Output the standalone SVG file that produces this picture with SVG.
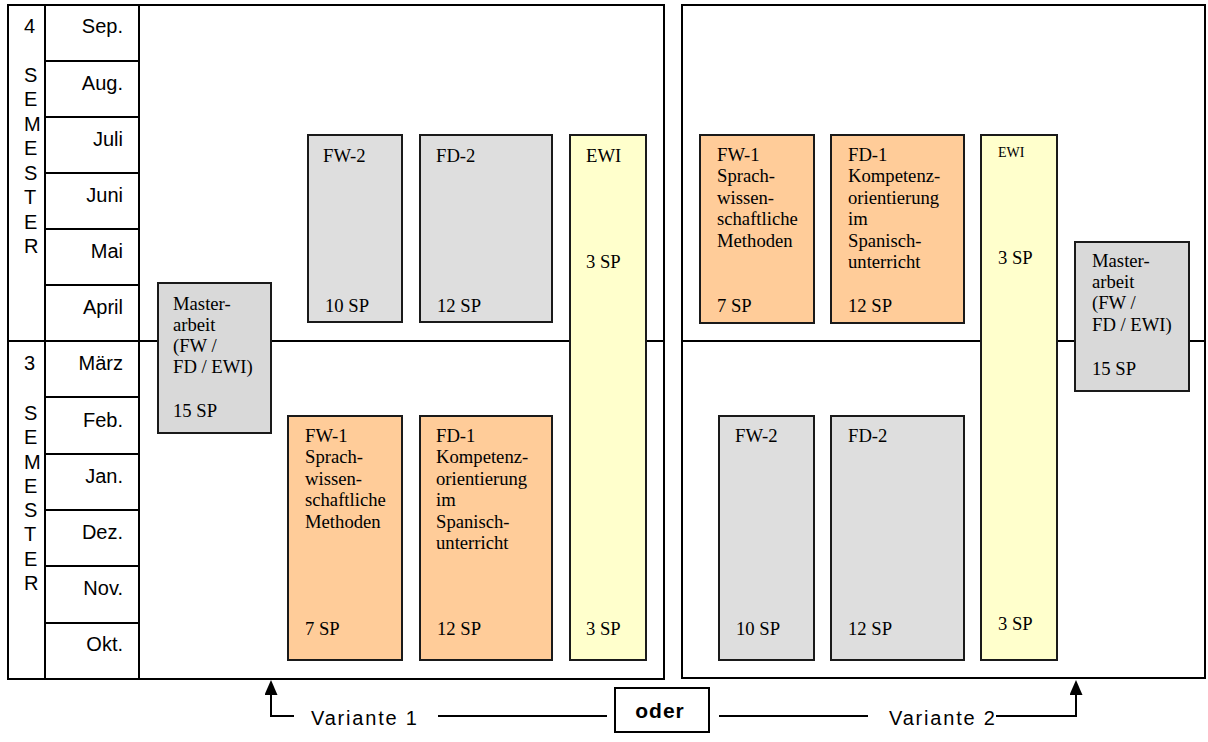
<svg xmlns="http://www.w3.org/2000/svg" width="1208" height="742" viewBox="0 0 1208 742">
<style>
.frame{fill:#fff;stroke:#000;stroke-width:2}
.ln{stroke:#000;stroke-width:2;fill:none}
.grey{fill:#dedede;stroke:#1a1a1a;stroke-width:2}
.ma{fill:#d9d9d9;stroke:#1a1a1a;stroke-width:2}
.orange{fill:#ffcc99;stroke:#1a1a1a;stroke-width:2}
.yellow{fill:#ffffcc;stroke:#1a1a1a;stroke-width:2}
.m{font-family:"Liberation Sans",Arial,sans-serif;font-size:20px;text-anchor:end;fill:#000}
.s{font-family:"Liberation Sans",Arial,sans-serif;font-size:20px;fill:#000}
.t{font-family:"Liberation Serif","Times New Roman",serif;font-size:18.67px;fill:#000}
.ts{font-family:"Liberation Serif","Times New Roman",serif;font-size:14px;fill:#000}
.v{font-family:"Liberation Sans",Arial,sans-serif;font-size:20px;letter-spacing:1.8px;fill:#000}
.o{font-family:"Liberation Sans",Arial,sans-serif;font-size:21px;font-weight:bold;letter-spacing:1px;fill:#000;text-anchor:middle}
</style>
<defs>
<marker id="ah" markerWidth="15" markerHeight="13" refX="5" refY="6.5" orient="auto" markerUnits="userSpaceOnUse" viewBox="0 0 15 13">
<path d="M0,0 L15,6.5 L0,13 Z" fill="#000"/>
</marker>
</defs>

<g id="panel-left">
<rect class="frame" x="8" y="5" width="656" height="674"/>
<line class="ln" x1="45" y1="5" x2="45" y2="679"/>
<line class="ln" x1="139" y1="5" x2="139" y2="679"/>
<line class="ln" x1="8" y1="341" x2="664" y2="341"/>
<g class="ln">
<line x1="45" y1="61" x2="139" y2="61"/>
<line x1="45" y1="117" x2="139" y2="117"/>
<line x1="45" y1="173" x2="139" y2="173"/>
<line x1="45" y1="229" x2="139" y2="229"/>
<line x1="45" y1="285" x2="139" y2="285"/>
<line x1="45" y1="397" x2="139" y2="397"/>
<line x1="45" y1="454" x2="139" y2="454"/>
<line x1="45" y1="510" x2="139" y2="510"/>
<line x1="45" y1="566" x2="139" y2="566"/>
<line x1="45" y1="623" x2="139" y2="623"/>
</g>
<text class="m" x="123" y="33">Sep.</text>
<text class="m" x="123" y="90">Aug.</text>
<text class="m" x="123" y="146">Juli</text>
<text class="m" x="123" y="202">Juni</text>
<text class="m" x="123" y="258">Mai</text>
<text class="m" x="123" y="314">April</text>
<text class="m" x="123" y="370">März</text>
<text class="m" x="123" y="427">Feb.</text>
<text class="m" x="123" y="483">Jan.</text>
<text class="m" x="123" y="539">Dez.</text>
<text class="m" x="123" y="595">Nov.</text>
<text class="m" x="123" y="651">Okt.</text>
<text class="s" x="24" y="33">4</text>
<text class="s" x="24" y="81.5">S</text>
<text class="s" x="24" y="106">E</text>
<text class="s" x="24" y="130.5">M</text>
<text class="s" x="24" y="155">E</text>
<text class="s" x="24" y="179.5">S</text>
<text class="s" x="24" y="204">T</text>
<text class="s" x="24" y="228.5">E</text>
<text class="s" x="24" y="253">R</text>
<text class="s" x="24" y="370">3</text>
<text class="s" x="24" y="420">S</text>
<text class="s" x="24" y="444.3">E</text>
<text class="s" x="24" y="468.6">M</text>
<text class="s" x="24" y="492.9">E</text>
<text class="s" x="24" y="517.1">S</text>
<text class="s" x="24" y="541.4">T</text>
<text class="s" x="24" y="565.7">E</text>
<text class="s" x="24" y="590">R</text>
</g>

<g id="panel-right">
<rect class="frame" x="682" y="5" width="523" height="673"/>
<line class="ln" x1="682" y1="341" x2="1205" y2="341"/>
</g>

<g id="v1-fw2">
<rect class="grey" x="308" y="135" width="94" height="187"/>
<text class="t" x="323" y="162">FW-2</text>
<text class="t" x="325" y="312">10 SP</text>
</g>
<g id="v1-fd2">
<rect class="grey" x="420" y="135" width="132" height="187"/>
<text class="t" x="436" y="162">FD-2</text>
<text class="t" x="437" y="312">12 SP</text>
</g>
<g id="v1-ewi">
<rect class="yellow" x="570" y="135" width="76" height="525"/>
<text class="t" x="586" y="162">EWI</text>
<text class="t" x="586" y="268">3 SP</text>
<text class="t" x="586" y="635">3 SP</text>
</g>
<g id="v1-master">
<rect class="ma" x="158" y="283" width="113" height="150"/>
<text class="t" x="173" y="310">Master-</text>
<text class="t" x="173" y="331">arbeit</text>
<text class="t" x="173" y="352">(FW /</text>
<text class="t" x="173" y="373">FD / EWI)</text>
<text class="t" x="173" y="417">15 SP</text>
</g>
<g id="v1-fw1">
<rect class="orange" x="288" y="416" width="114" height="244"/>
<text class="t" x="305" y="442">FW-1</text>
<text class="t" x="305" y="463">Sprach-</text>
<text class="t" x="305" y="485">wissen-</text>
<text class="t" x="305" y="506">schaftliche</text>
<text class="t" x="305" y="528">Methoden</text>
<text class="t" x="305" y="635">7 SP</text>
</g>
<g id="v1-fd1">
<rect class="orange" x="420" y="416" width="132" height="244"/>
<text class="t" x="436" y="442">FD-1</text>
<text class="t" x="436" y="463">Kompetenz-</text>
<text class="t" x="436" y="485">orientierung</text>
<text class="t" x="436" y="506">im</text>
<text class="t" x="436" y="528">Spanisch-</text>
<text class="t" x="436" y="549">unterricht</text>
<text class="t" x="437" y="635">12 SP</text>
</g>

<g id="v2-fw1">
<rect class="orange" x="700" y="135" width="114" height="188"/>
<text class="t" x="717" y="161">FW-1</text>
<text class="t" x="717" y="182">Sprach-</text>
<text class="t" x="717" y="204">wissen-</text>
<text class="t" x="717" y="225">schaftliche</text>
<text class="t" x="717" y="247">Methoden</text>
<text class="t" x="717" y="312">7 SP</text>
</g>
<g id="v2-fd1">
<rect class="orange" x="831" y="135" width="133" height="188"/>
<text class="t" x="848" y="161">FD-1</text>
<text class="t" x="848" y="182">Kompetenz-</text>
<text class="t" x="848" y="204">orientierung</text>
<text class="t" x="848" y="225">im</text>
<text class="t" x="848" y="247">Spanisch-</text>
<text class="t" x="848" y="268">unterricht</text>
<text class="t" x="848" y="312">12 SP</text>
</g>
<g id="v2-ewi">
<rect class="yellow" x="981" y="135" width="76" height="525"/>
<text class="ts" x="998" y="157">EWI</text>
<text class="t" x="998" y="264">3 SP</text>
<text class="t" x="998" y="630">3 SP</text>
</g>
<g id="v2-master">
<rect class="ma" x="1075" y="242" width="114" height="149"/>
<text class="t" x="1092" y="267">Master-</text>
<text class="t" x="1092" y="288">arbeit</text>
<text class="t" x="1092" y="309">(FW /</text>
<text class="t" x="1092" y="331">FD / EWI)</text>
<text class="t" x="1092" y="375">15 SP</text>
</g>
<g id="v2-fw2">
<rect class="grey" x="719" y="416" width="95" height="244"/>
<text class="t" x="735" y="442">FW-2</text>
<text class="t" x="736" y="635">10 SP</text>
</g>
<g id="v2-fd2">
<rect class="grey" x="831" y="416" width="133" height="244"/>
<text class="t" x="848" y="442">FD-2</text>
<text class="t" x="848" y="635">12 SP</text>
</g>

<g id="oder">
<rect x="615" y="688" width="94" height="44" fill="#fff" stroke="#000" stroke-width="2"/>
<text class="o" x="660" y="718">oder</text>
</g>

<g id="connectors">
<path class="ln" d="M294,716 H271 V690" marker-end="url(#ah)"/>
<line class="ln" x1="438" y1="716" x2="607" y2="716"/>
<line class="ln" x1="719" y1="716" x2="868" y2="716"/>
<path class="ln" d="M996,716 H1076 V690" marker-end="url(#ah)"/>
<text class="v" x="311" y="725">Variante 1</text>
<text class="v" x="889" y="725">Variante 2</text>
</g>
</svg>
